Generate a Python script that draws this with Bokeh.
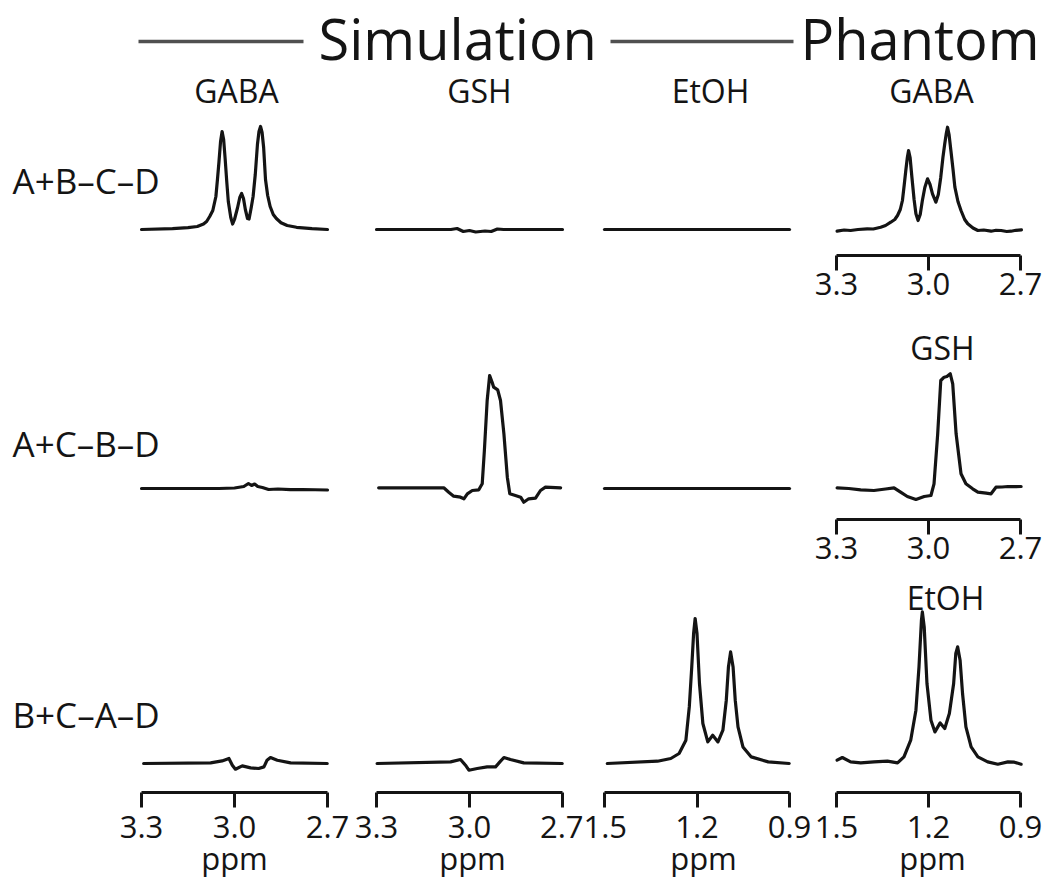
from bokeh.plotting import figure
from bokeh.models import Range1d, LinearAxis, FixedTicker, PrintfTickFormatter, Label, Spacer
from bokeh.layouts import column, row
from bokeh.embed import file_html
from bokeh.resources import INLINE

# ------------------------------------------------------------------ data
GABA_TICKS = [3.3, 3.0, 2.7]
ETOH_TICKS = [1.5, 1.2, 0.9]
ROW_LABELS = ["A+B\u2013C\u2013D", "A+C\u2013B\u2013D", "B+C\u2013A\u2013D"]
COL_LABELS = ["GABA", "GSH", "EtOH", "GABA"]
PHANTOM_ROW_LABELS = ["GABA", "GSH", "EtOH"]
GROUP_LABELS = ["Simulation", "Phantom"]
X_UNIT = "ppm"

# Row 1 (A+B-C-D)
SIM_GABA_1_PPM = [3.30, 3.20, 3.15, 3.12, 3.10, 3.09, 3.08, 3.07, 3.06, 3.055, 3.05, 3.045, 3.04, 3.035,
                  3.03, 3.025, 3.02, 3.012, 3.006, 3.0, 2.99, 2.983, 2.977, 2.971, 2.965, 2.958, 2.953,
                  2.946, 2.94, 2.933, 2.926, 2.921, 2.916, 2.911, 2.906, 2.90, 2.893, 2.885, 2.875, 2.865,
                  2.85, 2.83, 2.80, 2.75, 2.70]
SIM_GABA_1_INT = [0.0, 0.008, 0.018, 0.03, 0.055, 0.08, 0.13, 0.19, 0.33, 0.50, 0.68, 0.88, 0.98, 0.90,
                  0.70, 0.48, 0.28, 0.12, 0.055, 0.10, 0.22, 0.32, 0.36, 0.31, 0.20, 0.11, 0.105,
                  0.22, 0.33, 0.55, 0.85, 0.98, 1.03, 0.97, 0.82, 0.50, 0.34, 0.23, 0.15, 0.11,
                  0.068, 0.04, 0.022, 0.008, 0.0]
SIM_GSH_1_PPM = [3.30, 3.06, 3.04, 3.02, 3.00, 2.98, 2.95, 2.93, 2.91, 2.89, 2.86, 2.70]
SIM_GSH_1_INT = [0.0, 0.0, 0.01, -0.02, -0.01, -0.025, -0.015, -0.02, 0.005, 0.0, 0.0, 0.0]
SIM_ETOH_1_PPM = [1.5, 1.2, 0.9]
SIM_ETOH_1_INT = [0.0, 0.0, 0.0]
PH_GABA_1_PPM = [3.298, 3.275, 3.254, 3.23, 3.2, 3.18, 3.156, 3.14, 3.123, 3.11, 3.101, 3.092, 3.085,
                 3.079, 3.074, 3.069, 3.065, 3.06, 3.054, 3.047, 3.041, 3.034, 3.027, 3.02, 3.012, 3.003,
                 2.995, 2.987, 2.976, 2.968, 2.96, 2.953, 2.947, 2.942, 2.938, 2.933, 2.927, 2.92, 2.914,
                 2.904, 2.894, 2.882, 2.872, 2.855, 2.839, 2.82, 2.796, 2.78, 2.763, 2.745, 2.731, 2.715,
                 2.697]
PH_GABA_1_INT = [-0.017, -0.005, -0.01, 0.0, 0.007, 0.005, 0.023, 0.04, 0.073, 0.10, 0.14, 0.20, 0.29,
                 0.45, 0.59, 0.72, 0.79, 0.72, 0.52, 0.30, 0.157, 0.09, 0.15, 0.29, 0.42, 0.507,
                 0.45, 0.357, 0.273, 0.35, 0.523, 0.72, 0.857, 0.96, 1.023, 0.95, 0.79, 0.60, 0.423,
                 0.28, 0.19, 0.10, 0.057, 0.015, -0.01, -0.005, -0.017, -0.008, -0.01, -0.02, -0.017, -0.008,
                 -0.003]

# Row 2 (A+C-B-D)
SIM_GABA_2_PPM = [3.30, 3.05, 3.00, 2.97, 2.955, 2.945, 2.935, 2.925, 2.91, 2.89, 2.86, 2.82, 2.78, 2.70]
SIM_GABA_2_INT = [0.0, 0.0, 0.005, 0.02, 0.05, 0.03, 0.045, 0.02, 0.01, -0.01, -0.005, -0.012, -0.01, -0.015]
SIM_GSH_2_PPM = [3.293, 3.083, 3.067, 3.051, 3.029, 3.018, 3.007, 2.991, 2.970, 2.959, 2.952, 2.943, 2.935,
                 2.927, 2.922, 2.909, 2.900, 2.889, 2.878, 2.870, 2.852, 2.835, 2.825, 2.809, 2.787, 2.771,
                 2.755, 2.706]
SIM_GSH_2_INT = [0.007, 0.007, -0.037, -0.077, -0.087, -0.103, -0.053, -0.02, -0.013, 0.047, 0.38, 0.88, 1.13,
                 1.063, 1.013, 0.987, 0.88, 0.547, 0.113, -0.053, -0.07, -0.087, -0.137, -0.103, -0.097, -0.02,
                 0.013, 0.007]
SIM_ETOH_2_PPM = [1.5, 1.2, 0.9]
SIM_ETOH_2_INT = [0.0, 0.0, 0.0]
PH_GSH_2_PPM = [3.298, 3.26, 3.221, 3.178, 3.14, 3.1125, 3.091, 3.069, 3.041, 3.014, 2.992, 2.982, 2.970,
                2.960, 2.949, 2.94, 2.929, 2.921, 2.910, 2.894, 2.878, 2.856, 2.839, 2.812, 2.796, 2.780,
                2.76, 2.741, 2.72, 2.698]
PH_GSH_2_INT = [0.007, 0.0, -0.013, -0.02, -0.005, 0.007, -0.037, -0.08, -0.11, -0.08, -0.07, 0.047, 0.547,
                1.08, 1.113, 1.12, 1.147, 1.047, 0.547, 0.147, 0.047, -0.003, -0.037, -0.047, -0.053, 0.013,
                0.015, 0.02, 0.018, 0.02]

# Row 3 (B+C-A-D)
SIM_GABA_3_PPM = [3.293, 3.077, 3.040, 3.018, 3.007, 2.997, 2.975, 2.948, 2.922, 2.905, 2.895, 2.884,
                  2.862, 2.819, 2.701]
SIM_GABA_3_INT = [0.0, 0.006, 0.026, 0.05, -0.017, -0.057, -0.024, -0.044, -0.05, -0.034, 0.033, 0.06,
                  0.033, 0.006, 0.0]
SIM_GSH_3_PPM = [3.298, 3.061, 3.029, 3.013, 3.002, 2.975, 2.943, 2.916, 2.902, 2.889, 2.868, 2.825, 2.701]
SIM_GSH_3_INT = [0.0, 0.016, 0.04, -0.017, -0.067, -0.05, -0.034, -0.034, 0.016, 0.06, 0.04, 0.006, 0.0]
SIM_ETOH_3_PPM = [1.491, 1.328, 1.285, 1.258, 1.236, 1.225, 1.217, 1.211, 1.206, 1.200, 1.192, 1.181,
                  1.165, 1.149, 1.132, 1.116, 1.105, 1.098, 1.091, 1.083, 1.076, 1.067, 1.051, 1.024,
                  0.969, 0.901]
SIM_ETOH_3_INT = [0.0, 0.023, 0.05, 0.10, 0.233, 0.566, 0.966, 1.30, 1.45, 1.30, 0.80, 0.40,
                  0.216, 0.283, 0.216, 0.333, 0.633, 0.966, 1.116, 0.966, 0.633, 0.366, 0.166, 0.066,
                  0.016, 0.0]
PH_ETOH_3_PPM = [1.498, 1.481, 1.454, 1.421, 1.378, 1.334, 1.301, 1.280, 1.258, 1.241, 1.231, 1.223,
                 1.220, 1.214, 1.205, 1.192, 1.179, 1.162, 1.147, 1.132, 1.118, 1.111, 1.105, 1.097,
                 1.089, 1.078, 1.061, 1.039, 1.007, 0.974, 0.941, 0.920, 0.898]
PH_ETOH_3_INT = [0.033, 0.06, 0.016, 0.006, 0.016, 0.023, 0.006, 0.066, 0.233, 0.533, 0.966, 1.433,
                 1.516, 1.366, 0.80, 0.433, 0.316, 0.406, 0.35, 0.50, 0.80, 1.10, 1.166, 1.033,
                 0.70, 0.366, 0.166, 0.066, 0.016, -0.007, 0.016, 0.013, -0.007]

SPECTRA = [
    [(SIM_GABA_1_PPM, SIM_GABA_1_INT), (SIM_GSH_1_PPM, SIM_GSH_1_INT),
     (SIM_ETOH_1_PPM, SIM_ETOH_1_INT), (PH_GABA_1_PPM, PH_GABA_1_INT)],
    [(SIM_GABA_2_PPM, SIM_GABA_2_INT), (SIM_GSH_2_PPM, SIM_GSH_2_INT),
     (SIM_ETOH_2_PPM, SIM_ETOH_2_INT), (PH_GSH_2_PPM, PH_GSH_2_INT)],
    [(SIM_GABA_3_PPM, SIM_GABA_3_INT), (SIM_GSH_3_PPM, SIM_GSH_3_INT),
     (SIM_ETOH_3_PPM, SIM_ETOH_3_INT), (PH_ETOH_3_PPM, PH_ETOH_3_INT)],
]
COL_TICKS = [GABA_TICKS, GABA_TICKS, ETOH_TICKS, GABA_TICKS]
PHANTOM_TICKS = [GABA_TICKS, GABA_TICKS, ETOH_TICKS]

# ------------------------------------------------------------------ layout (screen pixels)
FONT = "Open Sans"
INK = "#141414"
RULE = "#505050"
FIG_X = [0, 351, 583, 812, 1042]
SPAN_X = [(141, 327), (376, 562), (604, 789), (836, 1020)]
ROW_Y = [112, 312, 572, 882]
AXIS_Y = [255, 519, 792]
BASE_Y = [229, 488, 763]
SCALE = 100.0
TICK_STANDOFF = [2, 2, 8]
ROW_LABEL_X = 12
ROW_LABEL_MID = [180, 443, 714]
PH_LABEL_X = [None, 942, 945]
PH_LABEL_MID = [None, 347, 597]
HEADER_TOP = 0
# bottom row: extra left border so that the unit label centres under each scale
UNIT_CENTER_X = [234, 472, 703, 932]
R3_LABEL_BAND = 740   # bottom of the strip holding the last row label


def make_panel(r, c, x0, x1, y0, y1):
    ticks = COL_TICKS[c] if c < 3 else PHANTOM_TICKS[r]
    hi, lo = max(ticks), min(ticks)
    has_axis = (r == 2 or c == 3)
    bl = 0
    if r == 2:
        bl = max(0, int(round(2 * UNIT_CENTER_X[c] - x0 - x1)))
    fx0, fx1 = x0 + bl, x1
    a, b = SPAN_X[c]
    k = (hi - lo) / (b - a)
    xr = Range1d(hi + (a - fx0) * k, lo - (fx1 - b) * k)
    fb = AXIS_Y[r]
    off = fb - BASE_Y[r]
    yr = Range1d(-off / SCALE, (fb - y0 - off) / SCALE)
    p = figure(width=x1 - x0, height=y1 - y0, x_range=xr, y_range=yr,
               output_backend="svg", toolbar_location=None,
               x_axis_location=None, y_axis_location=None,
               min_border_left=bl, min_border_right=0, min_border_top=0,
               min_border_bottom=y1 - fb, outline_line_color=None,
               background_fill_color="white", border_fill_color="white")
    p.grid.visible = False
    xs, ys = SPECTRA[r][c]
    p.line(xs, ys, line_color=INK, line_width=3.2, line_join="round", line_cap="round")

    def dx(px):
        return xr.start + (px - fx0) * (xr.end - xr.start) / (fx1 - fx0)

    def dy(py):
        return (BASE_Y[r] - py) / SCALE

    if has_axis:
        ax = LinearAxis(ticker=FixedTicker(ticks=ticks),
                        formatter=PrintfTickFormatter(format="%.1f"),
                        bounds=(lo, hi))
        ax.axis_line_width = 3
        ax.axis_line_color = INK
        ax.major_tick_line_width = 3
        ax.major_tick_line_color = INK
        ax.major_tick_out = 15
        ax.major_tick_in = 0
        ax.minor_tick_out = 0
        ax.minor_tick_in = 0
        ax.major_label_standoff = TICK_STANDOFF[r]
        ax.major_label_text_font = FONT
        ax.major_label_text_font_size = "31px"
        ax.major_label_text_color = INK
        if r == 2:
            ax.axis_label = X_UNIT
            ax.axis_label_standoff = -4
            ax.axis_label_text_font = FONT
            ax.axis_label_text_font_size = "31px"
            ax.axis_label_text_font_style = "normal"
            ax.axis_label_text_color = INK
        p.add_layout(ax, "below")

    if c == 0 and r < 2:
        p.add_layout(Label(x=dx(ROW_LABEL_X), y=dy(ROW_LABEL_MID[r]), text=ROW_LABELS[r],
                           text_font=FONT, text_font_size="35px", text_color=INK,
                           text_align="left", text_baseline="middle"))
    if c == 3 and PH_LABEL_MID[r] is not None:
        p.add_layout(Label(x=dx(PH_LABEL_X[r]), y=dy(PH_LABEL_MID[r]), text=PHANTOM_ROW_LABELS[r],
                           text_font=FONT, text_font_size="32px", text_color=INK,
                           text_align="center", text_baseline="middle"))
    return p


def text_strip(x0, x1, y0, y1):
    s = figure(width=x1 - x0, height=y1 - y0,
               x_range=Range1d(x0, x1), y_range=Range1d(y1, y0),
               output_backend="svg", toolbar_location=None,
               x_axis_location=None, y_axis_location=None, min_border=0,
               outline_line_color=None, background_fill_color="white", border_fill_color="white")
    s.grid.visible = False
    return s


# header
header = text_strip(FIG_X[0], FIG_X[-1], HEADER_TOP, ROW_Y[0])
RULE_Y = 41
header.segment(x0=[138, 610], y0=[RULE_Y, RULE_Y], x1=[303, 793], y1=[RULE_Y, RULE_Y],
               line_color=RULE, line_width=3.5)
for txt, gx in zip(GROUP_LABELS, [318, 800]):
    header.add_layout(Label(x=gx, y=37, text=txt, text_font=FONT, text_font_size="56px",
                            text_color=INK, text_align="left", text_baseline="middle"))
for txt, cx in zip(COL_LABELS, [236, 479, 710, 931]):
    header.add_layout(Label(x=cx, y=89.5, text=txt, text_font=FONT, text_font_size="32px",
                            text_color=INK, text_align="center", text_baseline="middle"))

rows = []
for r in range(2):
    rows.append(row(*[make_panel(r, c, FIG_X[c], FIG_X[c + 1], ROW_Y[r], ROW_Y[r + 1])
                      for c in range(4)], spacing=0))

# last row: the row label sits in its own strip above the first panel
r = 2
label_strip = text_strip(FIG_X[0], FIG_X[1], ROW_Y[2], R3_LABEL_BAND)
label_strip.add_layout(Label(x=ROW_LABEL_X, y=ROW_LABEL_MID[2], text=ROW_LABELS[2],
                             text_font=FONT, text_font_size="35px", text_color=INK,
                             text_align="left", text_baseline="middle"))
first_x0 = 2 * UNIT_CENTER_X[0] - FIG_X[1]
first_panel = make_panel(2, 0, first_x0, FIG_X[1], R3_LABEL_BAND, ROW_Y[3])
first_col = column(label_strip,
                   row(Spacer(width=first_x0 - FIG_X[0], height=ROW_Y[3] - R3_LABEL_BAND), first_panel,
                       spacing=0),
                   spacing=0)
rows.append(row(first_col, *[make_panel(2, c, FIG_X[c], FIG_X[c + 1], ROW_Y[2], ROW_Y[3])
                             for c in range(1, 4)], spacing=0))

layout = column(header, *rows, spacing=0)

open("out.html", "w").write(file_html(layout, INLINE))
